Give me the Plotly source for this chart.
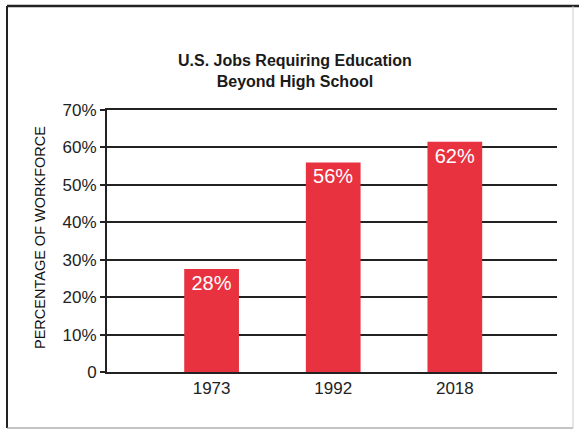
import plotly.graph_objects as go

years = ["1973", "1992", "2018"]
shares = [27.5, 56, 61.5]
bar_labels = ["28%", "56%", "62%"]
tick_vals = [0, 10, 20, 30, 40, 50, 60, 70]
tick_text = ["0", "10%", "20%", "30%", "40%", "50%", "60%", "70%"]

narrow = "Liberation Sans Narrow, Arial Narrow, Liberation Sans, Arial, sans-serif"

# plot area in pixels: x 107..557, y 110..372
L, R, T, B = 107, 557, 110, 372


def px_x(x):
    return (x - L) / (R - L)


def px_y(y):
    return (B - y) / (B - T)


fig = go.Figure(go.Bar(
    x=years, y=shares,
    width=0.45,
    marker=dict(color="#e8323f", line=dict(width=0)),
    text=bar_labels,
    textposition="inside",
    insidetextanchor="end",
    textangle=0,
    textfont=dict(family="Liberation Sans, Arial, sans-serif", size=20, color="white"),
))

fig.update_layout(
    width=579, height=430,
    margin=dict(l=L, r=579 - R, t=T, b=430 - B),
    paper_bgcolor="white", plot_bgcolor="white",
    showlegend=False,
    uniformtext=dict(minsize=20, mode="show"),
    font=dict(family=narrow, color="#222"),
)
fig.add_annotation(text="<b>U.S. Jobs Requiring Education<br>Beyond High School</b>",
                   x=px_x(295), y=px_y(71), xref="paper", yref="paper",
                   xanchor="center", yanchor="middle", showarrow=False,
                   font=dict(family="Liberation Sans, Arial, sans-serif", size=16, color="#1a1a1a"))
fig.add_annotation(text="PERCENTAGE OF WORKFORCE", textangle=-90,
                   x=px_x(40), y=px_y(238), xref="paper", yref="paper",
                   xanchor="center", yanchor="middle", showarrow=False,
                   font=dict(family=narrow, size=14.5, color="#111"))

fig.update_yaxes(
    range=[0, 70], tickvals=tick_vals, ticktext=tick_text,
    showgrid=True, gridcolor="#222", gridwidth=2,
    showline=True, linecolor="#222", linewidth=2,
    ticks="outside", ticklen=5, tickcolor="#222", tickwidth=2,
    tickfont=dict(family=narrow, size=17, color="#222"),
    zeroline=False, fixedrange=True,
)
fig.update_xaxes(
    range=[-0.86, 2.84],
    showline=True, mirror=True, linecolor="#222", linewidth=2,
    ticks="",
    tickfont=dict(family=narrow, size=17, color="#222"),
    fixedrange=True,
)

# outer frame
fig.add_shape(type="line", xref="paper", yref="paper",
              x0=px_x(7), x1=px_x(579), y0=px_y(6), y1=px_y(6),
              line=dict(color="#222", width=2.5))
fig.add_shape(type="line", xref="paper", yref="paper",
              x0=px_x(7), x1=px_x(7), y0=px_y(6), y1=px_y(428),
              line=dict(color="#222", width=2))
fig.add_shape(type="line", xref="paper", yref="paper",
              x0=px_x(7), x1=px_x(573), y0=px_y(428), y1=px_y(428),
              line=dict(color="#888", width=1))
fig.add_shape(type="line", xref="paper", yref="paper",
              x0=px_x(573), x1=px_x(573), y0=px_y(6), y1=px_y(428),
              line=dict(color="#ccc", width=1))

fig.write_html("out.html", config={"displayModeBar": False},
               post_script="document.body.style.margin='0';")
